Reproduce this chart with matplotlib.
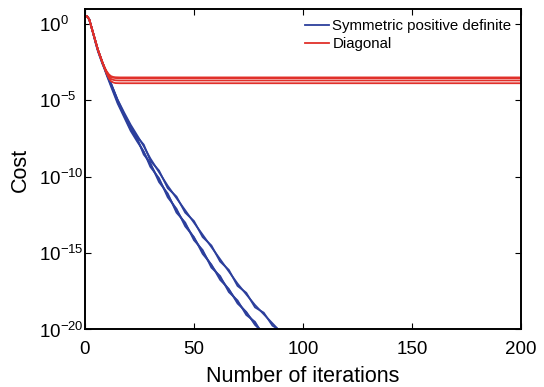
import matplotlib
matplotlib.use("Agg")
import matplotlib.pyplot as plt
import numpy as np

plt.rcParams["font.family"] = ["Liberation Sans", "DejaVu Sans"]
plt.rcParams["mathtext.fontset"] = "custom"
plt.rcParams["mathtext.rm"] = "Liberation Sans"

# iterations at which the blue (SPD) curves were read, log10 of cost
blue_iters = [1, 2, 3, 4, 5, 6, 7, 8, 9, 10, 12, 15, 18, 21, 24, 27, 30, 34, 38,
              42, 46, 50, 54, 58, 62, 66, 70, 74, 78, 82, 86, 90, 94]

spd_lower_a = [0.5, 0.3, -0.2, -0.7, -1.2, -1.7, -2.1, -2.5, -2.85, -3.2, -3.9,
               -5.0, -5.9, -6.8, -7.6, -8.4, -9.2, -10.2, -11.2, -12.2, -13.1,
               -14.0, -14.9, -15.8, -16.6, -17.4, -18.2, -18.9, -19.6, -20.3,
               -21.0, -21.7, -22.4]
spd_lower_b = [0.5, 0.3, -0.2, -0.7, -1.25, -1.75, -2.15, -2.55, -2.9, -3.3, -4.0,
               -5.1, -6.0, -6.9, -7.5, -8.55, -9.1, -10.35, -11.1, -12.35, -13.0,
               -14.15, -14.8, -15.95, -16.5, -17.55, -18.1, -19.05, -19.5, -20.45,
               -20.9, -21.8, -22.5]
spd_lower_c = [0.5, 0.3, -0.2, -0.75, -1.3, -1.8, -2.2, -2.6, -2.95, -3.35, -4.1,
               -5.2, -6.1, -7.0, -7.7, -8.35, -9.35, -10.1, -11.35, -12.1, -13.25,
               -13.95, -15.05, -15.75, -16.75, -17.35, -18.3, -18.85, -19.7, -20.25,
               -21.1, -21.7, -22.4]
spd_upper_a = [0.5, 0.3, -0.2, -0.7, -1.2, -1.7, -2.1, -2.5, -2.85, -3.2, -3.9,
               -4.95, -5.8, -6.6, -7.3, -8.0, -8.8, -9.7, -10.6, -11.4, -12.2,
               -13.0, -13.8, -14.6, -15.4, -16.2, -17.0, -17.7, -18.4, -19.0,
               -19.6, -20.2, -20.9]
spd_upper_b = [0.5, 0.3, -0.2, -0.7, -1.2, -1.7, -2.1, -2.5, -2.9, -3.25, -3.95,
               -5.0, -5.9, -6.7, -7.4, -7.9, -8.95, -9.6, -10.75, -11.3, -12.35,
               -12.9, -13.95, -14.5, -15.55, -16.1, -17.15, -17.6, -18.55, -18.9,
               -19.75, -20.1, -21.0]

# red (diagonal) curves, log10 of cost
diag_iters = [1, 2, 3, 4, 5, 6, 7, 8, 9, 10, 11, 12, 13, 14, 16, 20, 40, 200]
diag_a = [0.5, 0.3, -0.2, -0.7, -1.2, -1.7, -2.1, -2.5, -2.85, -3.1, -3.3,
          -3.42, -3.47, -3.49, -3.5, -3.5, -3.5, -3.5]
diag_b = [0.5, 0.3, -0.2, -0.7, -1.2, -1.7, -2.1, -2.5, -2.85, -3.15, -3.35,
          -3.48, -3.52, -3.54, -3.55, -3.55, -3.55, -3.55]
diag_c = [0.5, 0.3, -0.2, -0.7, -1.2, -1.7, -2.1, -2.5, -2.85, -3.2, -3.45,
          -3.6, -3.66, -3.69, -3.7, -3.7, -3.7, -3.7]
diag_d = [0.5, 0.3, -0.2, -0.7, -1.2, -1.7, -2.1, -2.5, -2.9, -3.25, -3.55,
          -3.75, -3.83, -3.87, -3.88, -3.88, -3.88, -3.88]

blue = "#2c3f9c"
red = "#e0302a"

fig = plt.figure(figsize=(5.44, 3.87), dpi=100)
ax = fig.add_axes([0.156, 0.1486, 0.802, 0.827])

spd = [spd_lower_a, spd_lower_b, spd_lower_c, spd_upper_a, spd_upper_b]
diag = [diag_a, diag_b, diag_c, diag_d]
for i, s in enumerate(spd):
    ax.semilogy(blue_iters, 10.0 ** np.array(s), color=blue, lw=1.3,
                label="Symmetric positive definite" if i == 0 else None)
for i, s in enumerate(diag):
    ax.semilogy(diag_iters, 10.0 ** np.array(s), color=red, lw=1.3,
                label="Diagonal" if i == 0 else None)

ax.set_xlim(0, 200)
ax.set_ylim(1e-20, 10 ** 0.95)
ax.set_xticks([0, 50, 100, 150, 200])
ax.set_yticks([1e-20, 1e-15, 1e-10, 1e-5, 1e0])
ax.minorticks_off()
ax.tick_params(direction="in", length=4, width=0.8, top=True, right=True,
               labelsize=13.5)
ax.tick_params(axis="x", pad=8)
# MATLAB-style: exponent labels are left-aligned
ax.tick_params(axis="y", pad=33)
for lab in ax.get_yticklabels():
    lab.set_horizontalalignment("left")
for sp in ax.spines.values():
    sp.set_linewidth(1.4)

ax.set_xlabel("Number of iterations", fontsize=15.5, labelpad=6)
ax.set_ylabel("Cost", fontsize=15.5, labelpad=6)

ax.legend(loc="upper right", frameon=False, fontsize=10.8, handlelength=1.6,
          handletextpad=0.2, labelspacing=0.25, borderaxespad=0.25)

fig.savefig("out.png", dpi=100)
